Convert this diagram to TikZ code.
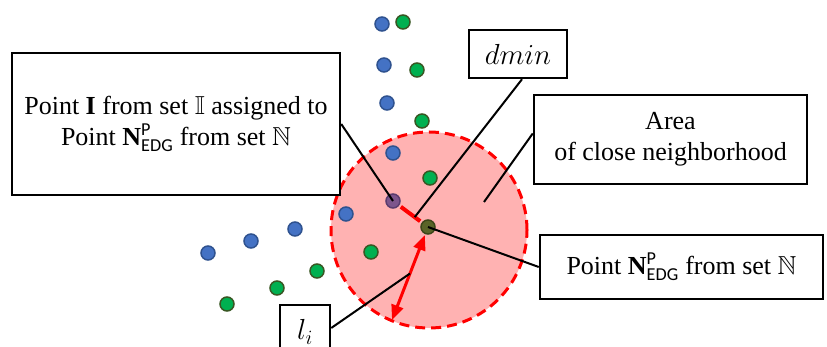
\RequirePackage{fix-cm}
\documentclass[tikz,border=0pt]{standalone}
\usepackage{amsmath,amssymb}
\usepackage{fontspec}
\setmainfont{Liberation Serif}
\newfontfamily\calfont{Carlito}
\usetikzlibrary{arrows.meta,calc}
\definecolor{areapink}{RGB}{255,178,178}
\definecolor{bluefill}{RGB}{68,114,196}
\definecolor{blueedge}{RGB}{47,82,143}
\definecolor{greenfill}{RGB}{0,176,80}
\definecolor{greenedge}{RGB}{56,87,35}
\definecolor{purplefill}{RGB}{125,85,140}
\definecolor{purpleedge}{RGB}{90,60,110}
\definecolor{olivefill}{RGB}{90,100,40}
\definecolor{oliveedge}{RGB}{60,70,25}
\newcommand{\NEDG}{\textbf{N}$^{\text{\calfont P}}_{\text{\calfont EDG}}$}
\tikzset{
  box/.style={draw=black, line width=2.5pt, fill=white, align=center, inner sep=0pt,
    font=\fontsize{26}{31}\selectfont},
  mathbox/.style={box, font=\fontsize{29}{32}\selectfont},
  dot/.style={circle, minimum size=14pt, inner sep=0pt, line width=1.5pt},
  bdot/.style={dot, draw=blueedge, fill=bluefill},
  gdot/.style={dot, draw=greenedge, fill=greenfill},
  conn/.style={draw=black, line width=2pt},
}
\begin{document}
\begin{tikzpicture}[x=1pt,y=-1pt]
\useasboundingbox (0,0) rectangle (827,347);
\clip (0,0) rectangle (827,347);
% area
\node[circle, minimum size=196pt, inner sep=0pt, fill=areapink, draw=red, line width=3pt,
  dash pattern=on 10pt off 6pt] (area) at (429,230) {};
% dots
\node[bdot] (b1) at (382,24) {};
\node[bdot] (b2) at (384,65) {};
\node[bdot] (b3) at (387,103) {};
\node[bdot] (b4) at (393,153) {};
\node[bdot] (b5) at (346,214) {};
\node[bdot] (b6) at (295,229) {};
\node[bdot] (b7) at (251,241) {};
\node[bdot] (b8) at (208,253) {};
\node[gdot] (g1) at (403,22) {};
\node[gdot] (g2) at (417,70) {};
\node[gdot] (g3) at (422,121) {};
\node[gdot] (g4) at (430,178) {};
\node[gdot] (g5) at (371,252) {};
\node[gdot] (g6) at (317,271) {};
\node[gdot] (g7) at (277,288) {};
\node[gdot] (g8) at (227,304) {};
% special points
\node[dot, draw=purpleedge, fill=purplefill] (pI) at (393,201) {};
\node[dot, draw=oliveedge, fill=olivefill] (pN) at (428,227) {};
\draw[red, line width=4pt, shorten <=2pt, shorten >=2pt] (pI) -- (pN);
\coordinate (tip) at (392,320);
\draw[red, line width=3pt, {Triangle[length=15pt,width=12pt]}-{Triangle[length=15pt,width=12pt]},
  shorten <=1pt] (pN) -- (tip);
\coordinate (mid) at ($(pI)!0.62!(pN)$);
\coordinate (armid) at ($(pN)!0.5!(tip)$);
\coordinate (areapt) at (484,202);
% boxes
\node[box, minimum width=328pt, minimum height=142pt] (bI) at (176,124)
  {Point \textbf{I} from set $\mathbb{I}$ assigned to\\ Point \NEDG{} from set $\mathbb{N}$};
\node[mathbox, minimum width=98pt, minimum height=48pt] (bd) at (518,54) {$dmin$};
\node[box, minimum width=273pt, minimum height=89pt] (bA) at (670.5,139.5)
  {Area\\ of close neighborhood};
\node[box, minimum width=283pt, minimum height=64pt] (bN) at (681.5,267)
  {Point \NEDG{} from set $\mathbb{N}$};
\node[mathbox, minimum width=50pt, minimum height=54pt] (bl) at (305,332) {$l_i$};
% connectors
\draw[conn] (bI.east) -- (pI.center);
\draw[conn] ([xshift=4pt]bd.south) -- (mid);
\draw[conn] ([yshift=6pt]bA.west) -- (areapt);
\draw[conn] (pN.center) -- (bN.west);
\draw[conn] ([yshift=4pt]bl.east) -- (armid);
\end{tikzpicture}
\end{document}
